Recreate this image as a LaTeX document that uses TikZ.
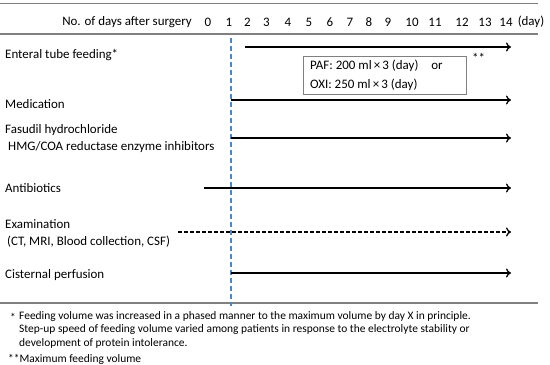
\documentclass[tikz,border=0pt]{standalone}
\usepackage{fontspec}
\setmainfont{Carlito}
\usetikzlibrary{arrows.meta}
\definecolor{rulegray}{RGB}{128,128,128}
\definecolor{dayblue}{RGB}{74,134,200}
\tikzset{
  lbl/.style={anchor=west,inner sep=0pt,font=\fontsize{13}{15}\selectfont},
  day/.style={inner sep=0pt,font=\fontsize{13}{15}\selectfont},
  note/.style={anchor=west,inner sep=0pt,font=\fontsize{11.5}{13}\selectfont},
  rulel/.style={draw=rulegray,line width=1.2bp},
  tl/.style={line width=1.4bp,-{To[length=5bp,width=9bp,line width=1.3bp]}},
  bluel/.style={draw=dayblue,line width=1.6bp,dash pattern=on 5bp off 3bp},
  boxn/.style={draw=rulegray,line width=0.8bp,minimum width=163bp,minimum height=38bp,inner sep=0pt}
}
\begin{document}
\begin{tikzpicture}[x=1bp,y=-1bp]
\useasboundingbox (0,0) rectangle (550,364);
% rules
\coordinate (r1a) at (0,3.5); \coordinate (r1b) at (538,3.5);
\coordinate (r2a) at (0,34); \coordinate (r2b) at (538,34);
\coordinate (r3a) at (0,303); \coordinate (r3b) at (538,303);
\draw[rulel] (r1a) -- (r1b);
\draw[rulel] (r2a) -- (r2b);
\draw[rulel] (r3a) -- (r3b);
% header
\node[day,anchor=east] (hdr) at (192,22) {No. of days after surgery};
\node[day] (d0) at (208,22) {0};
\node[day] (d1) at (229,22) {1};
\node[day] (d2) at (247.5,22) {2};
\node[day] (d3) at (266.5,22) {3};
\node[day] (d4) at (288,22) {4};
\node[day] (d5) at (309,22) {5};
\node[day] (d6) at (330,22) {6};
\node[day] (d7) at (350,22) {7};
\node[day] (d8) at (369,22) {8};
\node[day] (d9) at (388,22) {9};
\node[day] (d10) at (412,22) {10};
\node[day] (d11) at (435,22) {11};
\node[day] (d12) at (462,22) {12};
\node[day] (d13) at (485,22) {13};
\node[day] (d14) at (506,22) {14};
\node[day] (dday) at (531,22) {(day)};
% blue dashed day-1 line
\coordinate (b1) at (231,38); \coordinate (b2) at (231,306);
\draw[bluel] (b1) -- (b2);
% labels
\node[lbl] (ent) at (5,55) {Enteral tube feeding*};
\node[lbl] (med) at (5,104.5) {Medication};
\node[lbl] (fas) at (5,130.5) {Fasudil hydrochloride};
\node[lbl] (hmg) at (8,147.5) {HMG/COA reductase enzyme inhibitors};
\node[lbl] (ant) at (5,188.5) {Antibiotics};
\node[lbl] (exa) at (5,224.5) {Examination};
\node[lbl] (ct) at (7,241.5) {(CT, MRI, Blood collection, CSF)};
\node[lbl] (cis) at (5,275) {Cisternal perfusion};
% arrows
\coordinate (e1) at (245,47); \coordinate (e2) at (511,47);
\coordinate (m1) at (231,100); \coordinate (m2) at (511,100);
\coordinate (f1) at (231,138); \coordinate (f2) at (511,138);
\coordinate (a1) at (203.5,188); \coordinate (a2) at (511,188);
\coordinate (x1) at (178,232); \coordinate (x2) at (511,232);
\coordinate (c1) at (231,273); \coordinate (c2) at (511,273);
\draw[tl] (e1) -- (e2);
\draw[tl] (m1) -- (m2);
\draw[tl] (f1) -- (f2);
\draw[tl] (a1) -- (a2);
\draw[tl,dash pattern=on 4bp off 2bp] (x1) -- (x2);
\draw[tl] (c1) -- (c2);
% box
\node[boxn] (box) at (384.5,75) {};
\node[lbl] (paf) at (310,65.5) {PAF: 200 ml\,×\,3 (day)\quad or};
\node[lbl] (oxi) at (310,84.5) {OXI: 250 ml\,×\,3 (day)};
\node[lbl] (ss) at (472,58) {**};
% footnotes
\node[note] (fa) at (10,317) {*};
\node[note] (fb) at (19,316) {Feeding volume was increased in a phased manner to the maximum volume by day X in principle.};
\node[note] (fc) at (19,329.5) {Step-up speed of feeding volume varied among patients in response to the electrolyte stability or};
\node[note] (fd) at (19,343) {development of protein intolerance.};
\node[note] (fe) at (8,359) {**Maximum feeding volume};
\end{tikzpicture}
\end{document}
